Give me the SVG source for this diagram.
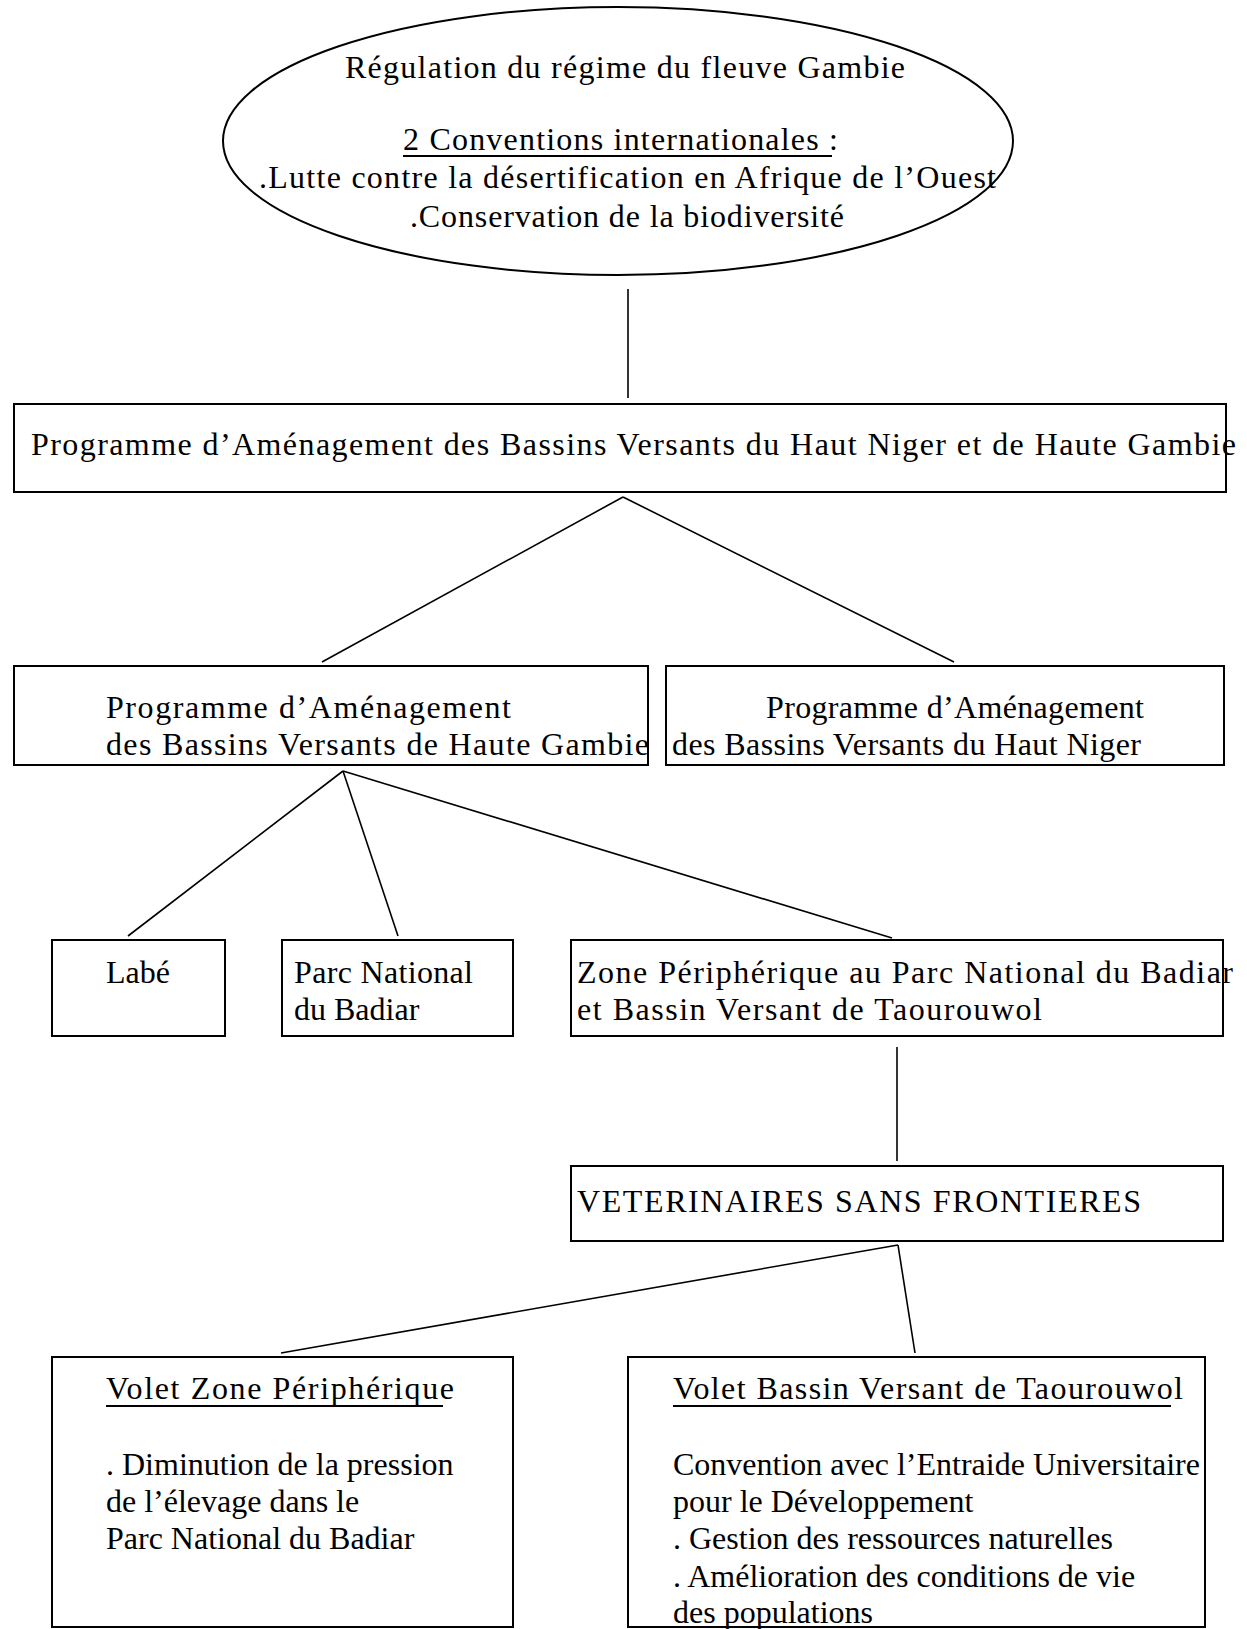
<svg xmlns="http://www.w3.org/2000/svg" width="1247" height="1629" viewBox="0 0 1247 1629">
<style>
.t{font-family:"Liberation Serif","Times New Roman",serif;font-size:32px;fill:#000}
.b{fill:#fff;stroke:#000;stroke-width:2}
.c{stroke:#000;stroke-width:1.6;fill:none}
.u{stroke:#000;stroke-width:2.2}
</style>
<rect width="1247" height="1629" fill="#fff"/>
<g id="connectors">
<line class="c" x1="628" y1="289" x2="628" y2="398"/>
<line class="c" x1="623" y1="497" x2="322" y2="662"/>
<line class="c" x1="623" y1="497" x2="954" y2="662"/>
<line class="c" x1="343" y1="771" x2="128" y2="936"/>
<line class="c" x1="343" y1="771" x2="398" y2="936"/>
<line class="c" x1="343" y1="771" x2="892" y2="938"/>
<line class="c" x1="897" y1="1047" x2="897" y2="1161"/>
<line class="c" x1="898" y1="1245" x2="281" y2="1353"/>
<line class="c" x1="898" y1="1245" x2="915" y2="1353"/>
</g>
<g id="n-ellipse">
<ellipse class="b" cx="618" cy="141" rx="395" ry="134"/>
<text class="t" x="345" y="78" textLength="560" lengthAdjust="spacing">Régulation du régime du fleuve Gambie</text>
<text class="t" x="403" y="150" textLength="435" lengthAdjust="spacing">2 Conventions internationales :</text>
<line class="u" x1="403" y1="156" x2="832" y2="156"/>
<text class="t" x="259" y="188" textLength="737" lengthAdjust="spacing">.Lutte contre la désertification en Afrique de l’Ouest</text>
<text class="t" x="410" y="227" textLength="434" lengthAdjust="spacing">.Conservation de la biodiversité</text>
</g>
<g id="n-pabv">
<rect class="b" x="14" y="404" width="1212" height="88"/>
<text class="t" x="31" y="455" textLength="1205" lengthAdjust="spacing">Programme d’Aménagement des Bassins Versants du Haut Niger et de Haute Gambie</text>
</g>
<g id="n-gambie">
<rect class="b" x="14" y="666" width="634" height="99"/>
<text class="t" x="106" y="718" textLength="405" lengthAdjust="spacing">Programme d’Aménagement</text>
<text class="t" x="106" y="755" textLength="543" lengthAdjust="spacing">des Bassins Versants de Haute Gambie</text>
</g>
<g id="n-niger">
<rect class="b" x="666" y="666" width="558" height="99"/>
<text class="t" x="766" y="718" textLength="378" lengthAdjust="spacing">Programme d’Aménagement</text>
<text class="t" x="672" y="755" textLength="469" lengthAdjust="spacing">des Bassins Versants du Haut Niger</text>
</g>
<g id="n-labe">
<rect class="b" x="52" y="940" width="173" height="96"/>
<text class="t" x="106" y="983">Labé</text>
</g>
<g id="n-parc">
<rect class="b" x="282" y="940" width="231" height="96"/>
<text class="t" x="294" y="983" textLength="179" lengthAdjust="spacing">Parc National</text>
<text class="t" x="294" y="1020">du Badiar</text>
</g>
<g id="n-zone">
<rect class="b" x="571" y="940" width="652" height="96"/>
<text class="t" x="577" y="983" textLength="656" lengthAdjust="spacing">Zone Périphérique au Parc National du Badiar</text>
<text class="t" x="577" y="1020" textLength="465" lengthAdjust="spacing">et Bassin Versant de Taourouwol</text>
</g>
<g id="n-vsf">
<rect class="b" x="571" y="1166" width="652" height="75"/>
<text class="t" x="577" y="1212" textLength="564" lengthAdjust="spacing">VETERINAIRES SANS FRONTIERES</text>
</g>
<g id="n-volet-zone">
<rect class="b" x="52" y="1357" width="461" height="270"/>
<text class="t" x="106" y="1399" textLength="348" lengthAdjust="spacing">Volet Zone Périphérique</text>
<line class="u" x1="106" y1="1406" x2="443" y2="1406"/>
<text class="t" x="106" y="1475">. Diminution de la pression</text>
<text class="t" x="106" y="1512">de l’élevage dans le</text>
<text class="t" x="106" y="1549">Parc National du Badiar</text>
</g>
<g id="n-volet-bassin">
<rect class="b" x="628" y="1357" width="577" height="270"/>
<text class="t" x="673" y="1399" textLength="510" lengthAdjust="spacing">Volet Bassin Versant de Taourouwol</text>
<line class="u" x1="673" y1="1406" x2="1171" y2="1406"/>
<text class="t" x="673" y="1475">Convention avec l’Entraide Universitaire</text>
<text class="t" x="673" y="1512">pour le Développement</text>
<text class="t" x="673" y="1549">. Gestion des ressources naturelles</text>
<text class="t" x="673" y="1587">. Amélioration des conditions de vie</text>
<text class="t" x="673" y="1623">des populations</text>
</g>
</svg>
